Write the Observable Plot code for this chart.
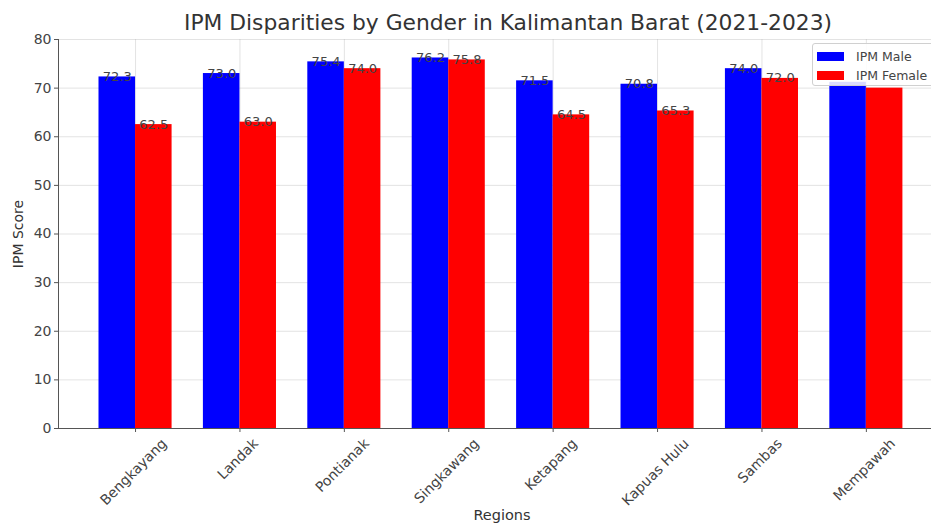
<!DOCTYPE html>
<html>
<head>
<meta charset="utf-8">
<script src="https://cdn.jsdelivr.net/npm/d3@7"></script>
<script src="https://cdn.jsdelivr.net/npm/@observablehq/plot@0.6"></script>
<style>
  html, body { margin: 0; padding: 0; background: white; overflow: hidden; }
  #wrap { position: relative; width: 931px; height: 526px; overflow: hidden; }
  #legend { position: absolute; left: 812px; top: 43px; width: 130px; height: 43px;
    border: 1px solid #d0d0d0; border-radius: 3px; background: rgba(255,255,255,0.85);
    font-family: "DejaVu Sans"; font-size: 12.5px; color: #444; box-sizing: border-box; }
  .item { position: absolute; left: 4px; display: flex; align-items: center; }
  .sw { width: 27px; height: 9px; margin-right: 12px; }
</style>
</head>
<body>
<div id="wrap"></div>
<script>
const title = "IPM Disparities by Gender in Kalimantan Barat (2021-2023)";
const xLabel = "Regions";
const yLabel = "IPM Score";
const regions = ["Bengkayang", "Landak", "Pontianak", "Singkawang", "Ketapang", "Kapuas Hulu", "Sambas", "Mempawah"];
const ipmMale = [72.3, 73.0, 75.4, 76.2, 71.5, 70.8, 74.0, 71.2];
const ipmFemale = [62.5, 63.0, 74.0, 75.8, 64.5, 65.3, 72.0, 70.0];
const seriesNames = ["IPM Male", "IPM Female"];
const seriesColors = ["#0000ff", "#ff0000"];
const yTicks = [0, 10, 20, 30, 40, 50, 60, 70, 80];
// In the reference, the value labels of the last region are hidden under the legend box.
const hiddenLabelRegions = ["Mempawah"];

const data = regions.map((r, i) => ({region: r, male: ipmMale[i], female: ipmFemale[i]}));
const labelData = data.filter(d => !hiddenLabelRegions.includes(d.region));

const xRange = [58.3, 942.6];
const padIn = 0.3, padOut = 0.385;
const step = (xRange[1] - xRange[0]) / (regions.length - padIn + 2 * padOut);
const bw = step * (1 - padIn);
const half = bw / 2;

const tickFont = 14;
const ctx = document.createElement("canvas").getContext("2d");
ctx.font = `${tickFont}px "DejaVu Sans"`;

const xLabelMarks = regions.map(r => {
  const L = ctx.measureText(r).width;
  const dy = 8 + (L + tickFont * 0.95) * Math.SQRT1_2 / 2;
  return Plot.text([r], {x: d => d, frameAnchor: "bottom", dy, dx: -2, rotate: -45,
    textAnchor: "middle", lineAnchor: "middle", text: d => d, fontSize: tickFont, fill: "#444"});
});

const chart = Plot.plot({
  width: 931, height: 526,
  marginLeft: 58, marginRight: 0, marginTop: 39, marginBottom: 98,
  style: {fontFamily: "DejaVu Sans", fontSize: tickFont + "px", color: "#444", background: "white"},
  x: {domain: regions, range: xRange, paddingInner: padIn, paddingOuter: padOut, round: false, axis: null},
  y: {domain: [0, 80], axis: null},
  marks: [
    Plot.gridY(yTicks, {stroke: "#b0b0b0", strokeOpacity: 0.35}),
    Plot.gridX(regions, {stroke: "#b0b0b0", strokeOpacity: 0.35}),
    Plot.barY(data, {x: "region", y: "male", fill: seriesColors[0], insetLeft: 0, insetRight: half}),
    Plot.barY(data, {x: "region", y: "female", fill: seriesColors[1], insetLeft: half, insetRight: 0}),
    Plot.text(labelData, {x: "region", y: "male", text: d => d.male.toFixed(1), dx: -half / 2, dy: 4,
      lineAnchor: "bottom", fill: "#444", fontSize: 13}),
    Plot.text(labelData, {x: "region", y: "female", text: d => d.female.toFixed(1), dx: half / 2, dy: 4,
      lineAnchor: "bottom", fill: "#444", fontSize: 13}),
    Plot.axisY(yTicks, {tickSize: 4, tickPadding: 3, label: null, stroke: "#555", fill: "#444", fontSize: tickFont}),
    Plot.axisX(regions, {tickSize: 4, tickFormat: () => "", label: null, stroke: "#555"}),
    Plot.frame({anchor: "left", stroke: "#555"}),
    Plot.frame({anchor: "bottom", stroke: "#555"}),
    ...xLabelMarks,
    Plot.text([xLabel], {frameAnchor: "bottom", dy: 87, dx: 7, lineAnchor: "middle", text: d => d, fontSize: 14.5, fill: "#333"}),
    Plot.text([yLabel], {frameAnchor: "left", dx: -40, rotate: -90, textAnchor: "middle", lineAnchor: "middle", text: d => d, fontSize: 14, fill: "#333"}),
    Plot.text([title], {frameAnchor: "top", dy: -16, dx: 13, lineAnchor: "middle", text: d => d, fontSize: 21.8, fill: "#333"})
  ]
});
const wrap = document.getElementById("wrap");
wrap.appendChild(chart);

const legend = document.createElement("div");
legend.id = "legend";
seriesNames.forEach((n, i) => {
  const it = document.createElement("div");
  it.className = "item";
  it.style.top = (i === 0 ? 5 : 24) + "px";
  const sw = document.createElement("div");
  sw.className = "sw";
  sw.style.background = seriesColors[i];
  const t = document.createElement("span");
  t.textContent = n;
  it.appendChild(sw); it.appendChild(t);
  legend.appendChild(it);
});
wrap.appendChild(legend);
</script>
</body>
</html>
